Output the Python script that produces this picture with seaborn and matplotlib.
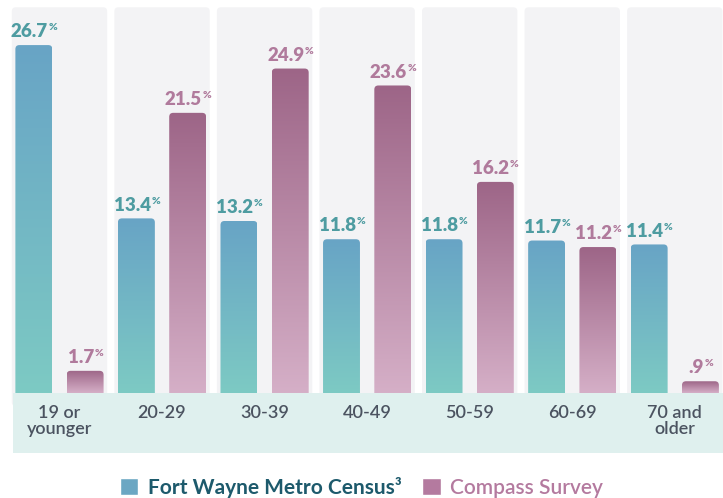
import numpy as np
import pandas as pd
import matplotlib.pyplot as plt
import seaborn as sns
from matplotlib.patches import FancyBboxPatch, Rectangle, Patch
from matplotlib.colors import LinearSegmentedColormap

# data
ages = ["19 or\nyounger", "20-29", "30-39", "40-49", "50-59", "60-69", "70 and\nolder"]
census = [26.7, 13.4, 13.2, 11.8, 11.8, 11.7, 11.4]
survey = [1.7, 21.5, 24.9, 23.6, 16.2, 11.2, 0.9]
census_txt = ["26.7", "13.4", "13.2", "11.8", "11.8", "11.7", "11.4"]
survey_txt = ["1.7", "21.5", "24.9", "23.6", "16.2", "11.2", ".9"]
series = ["Fort Wayne Metro Census\u00b3", "Compass Survey"]

df = pd.DataFrame({
    "age": ages * 2,
    "pct": census + survey,
    "group": [series[0]] * len(ages) + [series[1]] * len(ages),
})

sns.set_style("white")
plt.rcParams["font.family"] = ["Lato", "DejaVu Sans"]

fig = plt.figure(figsize=(7.23, 4.98), dpi=100)
ax = fig.add_axes([0, 0, 1, 1])

sns.barplot(data=df, x="age", y="pct", hue="group", order=ages, hue_order=series,
            width=1.0, gap=0.28, palette=["#6aa6c4", "#b07a9c"], legend=False,
            errorbar=None, ax=ax)
bars = list(ax.patches)

XL = (-0.58, 6.47)
YL = (-8.06, 30.16)
px_x = (XL[1] - XL[0]) / 723
px_y = (YL[1] - YL[0]) / 498
asp = px_y / px_x
rad = 4 * px_x

# panel backgrounds
for i in range(len(ages)):
    ax.add_patch(FancyBboxPatch((i - 0.465, -1), 0.93, 30.6,
                                boxstyle=f"round,pad=0,rounding_size={rad}",
                                mutation_aspect=asp, facecolor="#f3f3f5",
                                edgecolor="none", zorder=0))

cmaps = [LinearSegmentedColormap.from_list("c", ["#7dcac3", "#68a4c6"]),
         LinearSegmentedColormap.from_list("s", ["#d5afc7", "#9d6587"])]
grad = np.linspace(0, 1, 256).reshape(-1, 1)

info = []
for p in bars:
    x0, w, h = p.get_x(), p.get_width(), p.get_height()
    cx = x0 + w / 2
    k = 0 if cx < round(cx) else 1
    p.set_visible(False)
    clip = FancyBboxPatch((x0, -1), w, h + 1,
                          boxstyle=f"round,pad=0,rounding_size={rad}",
                          mutation_aspect=asp, facecolor="none", edgecolor="none")
    ax.add_patch(clip)
    im = ax.imshow(grad, extent=[x0, x0 + w, 0, h], origin="lower", cmap=cmaps[k],
                   aspect="auto", zorder=2)
    im.set_clip_path(clip)
    info.append((cx, h, k, int(round(cx))))

# category band
ax.add_patch(Rectangle((-0.455, -4.6), 7.2, 4.6, facecolor="#dff0ee",
                       edgecolor="none", zorder=3))
for i, a in enumerate(ages):
    ax.text(i, -0.95, a, ha="center", va="top", fontsize=13, color="#4b5360",
            fontweight="semibold", linespacing=0.95, zorder=4)

# value labels with small superscript %
label_cols = ["#4e9ca1", "#b07a9c"]
renderer = fig.canvas.get_renderer()
for cx, h, k, i in info:
    s = census_txt[i] if k == 0 else survey_txt[i]
    t1 = ax.text(0, h + 0.6, s, fontsize=13.5, fontweight="heavy",
                 color=label_cols[k], ha="left", va="baseline")
    t2 = ax.text(0, h + 0.6 + 7 * px_y, "%", fontsize=7.5, fontweight="heavy",
                 color=label_cols[k], ha="left", va="baseline")
    w1 = t1.get_window_extent(renderer).width * px_x
    w2 = t2.get_window_extent(renderer).width * px_x
    left = cx - (w1 + w2) / 2
    t1.set_x(left)
    t2.set_x(left + w1 + 0.5 * px_x)

ax.set_xlim(*XL)
ax.set_ylim(*YL)
ax.axis("off")

handles = [Patch(facecolor="#6ba7c3"), Patch(facecolor="#b47a9f")]
leg = fig.legend(handles, series, loc="center", bbox_to_anchor=(0.5, 1 - 487 / 498),
                 ncol=2, frameon=False, fontsize=15, handlelength=0.9,
                 handleheight=0.9, handletextpad=0.45, columnspacing=1.0)
txts = leg.get_texts()
txts[0].set_color("#1d5a6c")
txts[0].set_fontweight("bold")
txts[1].set_color("#b47a9f")
txts[1].set_fontweight("semibold")

fig.savefig("out.png", dpi=100)
